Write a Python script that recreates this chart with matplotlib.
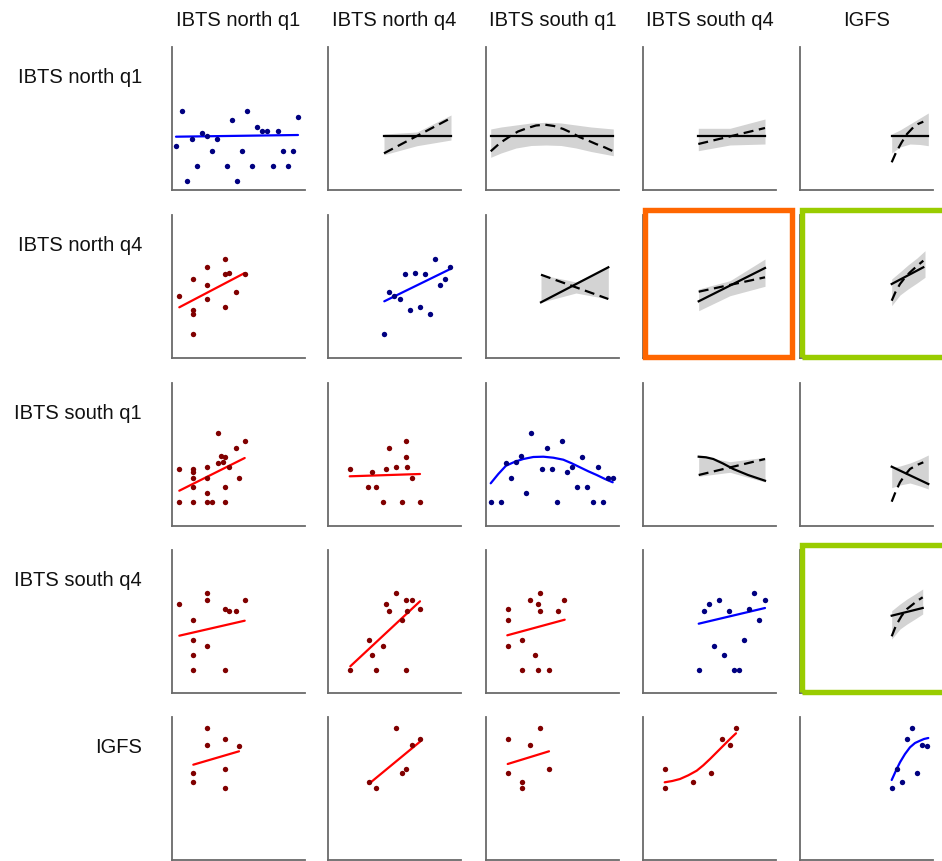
import matplotlib
matplotlib.use("Agg")
import matplotlib.pyplot as plt
from matplotlib.patches import Rectangle

plt.rcParams['font.family'] = ['Liberation Sans', 'DejaVu Sans']

surveys = ["IBTS north q1", "IBTS north q4", "IBTS south q1", "IBTS south q4", "IGFS"]

# ---- diagonal and lower-triangle panels: points and fitted curves ----
# row 0
p00_x = [0.40, 0.97, 1.47, 1.97, 2.47, 2.97, 3.47, 3.97, 4.47, 5.47, 5.97, 6.53,
         7.03, 7.53, 8.03, 8.53, 9.03, 9.53, 10.07, 10.57, 11.07, 11.57, 12.10, 12.60]
p00_y = [4.37, 7.87, 0.93, 5.10, 2.43, 5.67, 5.40, 3.90, 5.10, 2.43, 7.00, 0.93,
         3.90, 7.93, 2.43, 6.27, 5.87, 5.87, 2.43, 5.87, 3.90, 2.43, 3.90, 7.33]
p00_fx = [0.40, 12.60]
p00_fy = [5.33, 5.50]

# row 1
p10_x = [0.73, 2.13, 2.13, 2.13, 2.13, 3.53, 3.53, 3.53, 5.33, 5.33, 5.73, 5.33, 6.40, 7.27]
p10_y = [6.23, 7.90, 4.83, 4.40, 2.40, 9.07, 7.33, 5.90, 9.87, 8.37, 8.50, 5.07, 6.60, 8.37]
p10_fx = [0.73, 7.27]
p10_fy = [5.07, 8.50]

p11_x = [5.63, 6.13, 6.63, 7.17, 7.67, 8.17, 8.70, 9.20, 9.70, 10.20, 10.70, 11.20, 11.70, 12.23]
p11_y = [2.40, 6.60, 6.23, 5.87, 8.37, 4.77, 8.50, 5.07, 8.37, 4.37, 9.87, 7.33, 7.90, 9.07]
p11_fx = [5.63, 12.23]
p11_fy = [5.67, 8.90]

# row 2
p20_x = [0.73, 0.73, 2.13, 2.13, 2.13, 2.13, 2.13, 3.53, 3.53, 3.53, 3.53, 3.97, 4.60,
         4.60, 4.90, 5.13, 5.33, 5.33, 5.33, 5.73, 6.40, 6.70, 7.27]
p20_y = [5.70, 2.43, 5.70, 5.37, 4.77, 3.93, 2.43, 5.87, 4.77, 3.27, 2.43, 2.43, 9.30,
         6.27, 7.03, 6.43, 6.87, 3.93, 2.43, 5.87, 7.83, 4.77, 8.50]
p20_fx = [0.73, 7.27]
p20_fy = [3.53, 6.80]

p21_x = [2.23, 4.40, 4.03, 4.77, 5.47, 5.80, 6.13, 6.83, 7.40, 7.77, 7.77, 7.90, 8.43, 9.17]
p21_y = [5.67, 5.43, 3.93, 3.93, 2.43, 5.67, 7.83, 5.87, 2.43, 8.50, 6.87, 5.87, 4.77, 2.43]
p21_fx = [2.17, 9.20]
p21_fy = [4.97, 5.20]

p22_x = [0.47, 1.50, 2.00, 2.50, 3.03, 3.53, 4.03, 4.53, 5.57, 6.07, 6.60, 7.10, 7.60,
         8.13, 8.63, 9.13, 9.63, 10.13, 10.67, 11.17, 11.67, 12.17, 12.67]
p22_y = [2.43, 2.43, 6.27, 4.77, 6.43, 7.03, 3.27, 9.30, 5.67, 7.83, 5.67, 2.43, 8.50,
         5.37, 5.87, 3.93, 6.87, 3.93, 2.43, 5.87, 2.43, 4.77, 4.77]
p22_fx = [0.47, 1.23, 2.00, 2.90, 3.73, 4.73, 5.73, 6.73, 7.73, 8.57, 9.40, 10.23, 11.07, 11.90, 12.67]
p22_fy = [4.27, 5.20, 6.03, 6.43, 6.70, 6.90, 6.93, 6.83, 6.63, 6.27, 5.87, 5.47, 5.10, 4.70, 4.37]

# row 3
p30_x = [0.73, 2.13, 2.13, 2.13, 2.13, 3.53, 3.53, 3.53, 5.33, 5.73, 5.33, 6.40, 7.27]
p30_y = [8.87, 7.27, 5.30, 3.80, 2.30, 9.97, 9.33, 4.67, 8.40, 8.20, 2.30, 8.20, 9.33]
p30_fx = [0.73, 7.27]
p30_fy = [5.73, 7.23]

p31_x = [2.23, 4.07, 4.40, 4.77, 5.47, 5.80, 6.13, 6.83, 7.40, 7.77, 7.90, 7.77, 8.43, 9.17]
p31_y = [2.30, 5.30, 3.80, 2.30, 4.67, 8.87, 8.20, 9.97, 7.27, 9.33, 8.20, 2.30, 9.33, 8.40]
p31_fx = [2.23, 9.20]
p31_fy = [2.67, 9.17]

p32_x = [2.17, 2.17, 2.17, 3.57, 3.57, 4.37, 4.93, 5.20, 5.20, 5.40, 5.40, 6.30, 7.20, 7.83]
p32_y = [8.40, 7.27, 4.67, 5.30, 2.30, 9.33, 3.80, 8.87, 2.30, 9.97, 8.20, 2.30, 8.20, 9.33]
p32_fx = [2.13, 7.87]
p32_fy = [5.77, 7.33]

p33_x = [5.57, 6.07, 6.60, 7.10, 7.60, 8.10, 8.60, 9.10, 9.63, 10.13, 10.63, 11.13, 11.63, 12.17]
p33_y = [2.30, 8.20, 8.87, 4.67, 9.33, 3.80, 8.20, 2.30, 2.30, 5.30, 8.40, 9.97, 7.27, 9.33]
p33_fx = [5.57, 12.20]
p33_fy = [6.93, 8.50]

# row 4
p40_x = [2.13, 2.13, 3.53, 3.53, 5.33, 5.33, 5.33, 6.70]
p40_y = [8.67, 7.77, 13.23, 11.53, 12.10, 9.07, 7.17, 11.43]
p40_fx = [2.13, 6.70]
p40_fy = [9.53, 10.87]

p41_x = [4.07, 4.77, 6.83, 7.40, 7.77, 8.43, 9.17]
p41_y = [7.77, 7.17, 13.23, 8.67, 9.07, 11.53, 12.10]
p41_fx = [4.07, 9.20]
p41_fy = [7.60, 11.83]

p42_x = [2.17, 2.17, 3.57, 3.57, 4.37, 5.40, 6.30]
p42_y = [12.10, 8.67, 7.77, 7.17, 11.53, 13.23, 9.07]
p42_fx = [2.17, 6.30]
p42_fy = [9.60, 10.87]

p43_x = [2.17, 2.17, 4.97, 6.77, 7.90, 8.70, 9.30]
p43_y = [9.07, 7.17, 7.77, 8.67, 12.10, 11.53, 13.23]
p43_fx = [2.17, 2.93, 3.70, 4.53, 5.37, 6.03, 6.70, 7.37, 8.03, 8.70, 9.30]
p43_fy = [7.77, 7.90, 8.10, 8.47, 8.93, 9.47, 10.10, 10.77, 11.43, 12.10, 12.67]

p44_x = [9.17, 9.67, 10.17, 10.67, 11.20, 11.70, 12.20, 12.73]
p44_y = [7.17, 9.07, 7.77, 12.10, 13.23, 8.67, 11.53, 11.43]
p44_fx = [9.17, 9.60, 10.00, 10.50, 11.00, 11.50, 12.00, 12.40, 12.83]
p44_fy = [8.00, 8.95, 9.77, 10.60, 11.27, 11.70, 11.93, 12.10, 12.20]

# ---- upper-triangle panels: solid fit, dashed fit and grey interval ----
u01_sx, u01_sy = [5.60, 12.30], [5.43, 5.43]
u01_dx, u01_dy = [5.60, 12.30], [3.67, 7.20]
u01_bx, u01_lo, u01_hi = [5.60, 8.90, 12.30], [3.53, 4.43, 5.00], [5.60, 5.80, 7.50]

u02_sx, u02_sy = [0.47, 12.73], [5.43, 5.43]
u02_dx = [0.47, 1.40, 2.40, 3.20, 4.07, 5.00, 5.90, 6.80, 7.73, 8.60, 9.40, 10.20, 11.00, 11.90, 12.73]
u02_dy = [3.87, 4.70, 5.37, 5.85, 6.17, 6.45, 6.53, 6.40, 6.10, 5.70, 5.27, 4.95, 4.60, 4.25, 3.87]
u02_bx = [0.47, 1.50, 3.00, 4.50, 6.00, 7.50, 9.00, 10.50, 12.73]
u02_lo = [3.27, 3.70, 4.20, 4.45, 4.50, 4.45, 4.20, 3.85, 3.43]
u02_hi = [6.10, 6.30, 6.50, 6.70, 6.77, 6.70, 6.50, 6.30, 6.10]

u03_sx, u03_sy = [5.53, 12.20], [5.43, 5.43]
u03_dx, u03_dy = [5.53, 12.20], [4.60, 6.20]
u03_bx, u03_lo, u03_hi = [5.53, 8.70, 12.20], [3.93, 4.50, 4.60], [6.17, 6.17, 7.10]

u04_sx, u04_sy = [9.17, 12.83], [5.43, 5.43]
u04_dx = [9.17, 9.60, 10.17, 10.70, 11.33, 11.80, 12.33]
u04_dy = [2.77, 3.75, 4.77, 5.60, 6.27, 6.60, 6.83]
u04_bx, u04_lo, u04_hi = [9.17, 10.00, 11.00, 12.00, 12.83], [3.70, 4.30, 4.60, 4.55, 4.43], [5.60, 6.00, 6.60, 7.20, 7.70]

u12_sx, u12_sy = [5.50, 12.23], [5.57, 9.07]
u12_dx, u12_dy = [5.50, 12.23], [8.33, 5.90]
u12_bx, u12_lo, u12_hi = [5.50, 9.00, 12.23], [5.57, 6.50, 5.90], [8.33, 7.60, 9.07]

u13_sx, u13_sy = [5.57, 12.20], [5.67, 9.00]
u13_dx, u13_dy = [5.57, 12.20], [6.63, 8.07]
u13_bx, u13_lo, u13_hi = [5.57, 8.70, 12.20], [4.73, 6.23, 7.17], [6.90, 7.73, 9.90]

u14_sx, u14_sy = [9.17, 12.33], [7.40, 9.07]
u14_dx = [9.17, 9.55, 10.00, 10.50, 11.00, 11.70, 12.33]
u14_dy = [5.73, 6.60, 7.40, 8.05, 8.57, 9.20, 9.73]
u14_bx, u14_lo, u14_hi = [9.17, 10.00, 10.80, 11.70, 12.50], [5.23, 6.30, 6.90, 7.50, 8.07], [7.90, 8.60, 9.30, 10.00, 10.73]

u23_sx, u23_sy = [5.57, 6.30, 7.03, 8.00, 9.03, 10.50, 12.20], [6.93, 6.87, 6.70, 6.25, 5.70, 5.10, 4.53]
u23_dx, u23_dy = [5.57, 12.20], [5.10, 6.70]
u23_bx, u23_lo, u23_hi = [5.57, 8.70, 12.20], [4.97, 5.37, 4.40], [7.03, 6.43, 6.87]

u24_sx, u24_sy = [9.17, 12.83], [5.93, 4.20]
u24_dx = [9.17, 9.55, 10.00, 10.50, 11.00, 11.70, 12.33]
u24_dy = [2.43, 3.40, 4.37, 5.10, 5.70, 6.10, 6.37]
u24_bx, u24_lo, u24_hi = [9.17, 10.00, 11.00, 12.00, 12.83], [3.83, 4.10, 4.30, 4.00, 3.70], [5.87, 6.00, 6.30, 6.70, 7.10]

u34_sx, u34_sy = [9.17, 12.27], [7.73, 8.50]
u34_dx = [9.17, 9.60, 10.17, 10.70, 11.33, 11.80, 12.27]
u34_dy = [5.67, 6.75, 7.73, 8.40, 8.90, 9.27, 9.57]
u34_bx, u34_lo, u34_hi = [9.17, 10.00, 10.70, 11.50, 12.27], [5.40, 6.40, 6.90, 7.40, 7.90], [8.23, 8.90, 9.40, 9.90, 10.40]

lower_panels = {
    (0, 0): (p00_x, p00_y, p00_fx, p00_fy),
    (1, 0): (p10_x, p10_y, p10_fx, p10_fy),
    (1, 1): (p11_x, p11_y, p11_fx, p11_fy),
    (2, 0): (p20_x, p20_y, p20_fx, p20_fy),
    (2, 1): (p21_x, p21_y, p21_fx, p21_fy),
    (2, 2): (p22_x, p22_y, p22_fx, p22_fy),
    (3, 0): (p30_x, p30_y, p30_fx, p30_fy),
    (3, 1): (p31_x, p31_y, p31_fx, p31_fy),
    (3, 2): (p32_x, p32_y, p32_fx, p32_fy),
    (3, 3): (p33_x, p33_y, p33_fx, p33_fy),
    (4, 0): (p40_x, p40_y, p40_fx, p40_fy),
    (4, 1): (p41_x, p41_y, p41_fx, p41_fy),
    (4, 2): (p42_x, p42_y, p42_fx, p42_fy),
    (4, 3): (p43_x, p43_y, p43_fx, p43_fy),
    (4, 4): (p44_x, p44_y, p44_fx, p44_fy),
}
upper_panels = {
    (0, 1): (u01_sx, u01_sy, u01_dx, u01_dy, u01_bx, u01_lo, u01_hi),
    (0, 2): (u02_sx, u02_sy, u02_dx, u02_dy, u02_bx, u02_lo, u02_hi),
    (0, 3): (u03_sx, u03_sy, u03_dx, u03_dy, u03_bx, u03_lo, u03_hi),
    (0, 4): (u04_sx, u04_sy, u04_dx, u04_dy, u04_bx, u04_lo, u04_hi),
    (1, 2): (u12_sx, u12_sy, u12_dx, u12_dy, u12_bx, u12_lo, u12_hi),
    (1, 3): (u13_sx, u13_sy, u13_dx, u13_dy, u13_bx, u13_lo, u13_hi),
    (1, 4): (u14_sx, u14_sy, u14_dx, u14_dy, u14_bx, u14_lo, u14_hi),
    (2, 3): (u23_sx, u23_sy, u23_dx, u23_dy, u23_bx, u23_lo, u23_hi),
    (2, 4): (u24_sx, u24_sy, u24_dx, u24_dy, u24_bx, u24_lo, u24_hi),
    (3, 4): (u34_sx, u34_sy, u34_dx, u34_dy, u34_bx, u34_lo, u34_hi),
}
highlights = [((1, 3), "#ff6600"), ((1, 4), "#99cc00"), ((3, 4), "#99cc00")]

# ---- layout (pixels) ----
W, H = 942, 862
col_left = [172, 328, 486, 643, 800]
row_bottom = [191, 359, 527, 694, 861]
PW, PH = 133, 143
XMAX, YMAX = 13.3, 14.3

fig = plt.figure(figsize=(W / 100, H / 100), dpi=100)
fig.patch.set_facecolor("white")


def make_axes(r, c):
    ax = fig.add_axes([col_left[c] / W, (H - row_bottom[r]) / H, PW / W, PH / H])
    ax.set_xlim(0, XMAX)
    ax.set_ylim(0, YMAX)
    ax.patch.set_alpha(0)
    for side in ("top", "right"):
        ax.spines[side].set_visible(False)
    for side in ("left", "bottom"):
        ax.spines[side].set_color("#6a6a6a")
        ax.spines[side].set_linewidth(1.3)
    ax.set_xticks([])
    ax.set_yticks([])
    return ax


for (r, c), (x, y, fx, fy) in lower_panels.items():
    ax = make_axes(r, c)
    diag = r == c
    dot = "#000080" if diag else "#800000"
    line = "#0000ff" if diag else "#ff0000"
    ax.plot(fx, fy, color=line, lw=1.6, solid_capstyle="round",
            solid_joinstyle="round", zorder=2)
    ax.scatter(x, y, s=15, color=dot, linewidths=0, zorder=3)

for (r, c), (sx, sy, dx, dy, bx, lo, hi) in upper_panels.items():
    ax = make_axes(r, c)
    ax.fill_between(bx, lo, hi, color="#d3d3d3", lw=0, zorder=1)
    ax.plot(sx, sy, color="black", lw=1.6, solid_joinstyle="round", zorder=3)
    ax.plot(dx, dy, color="black", lw=1.6, dashes=(4.5, 2.5), zorder=3)

# column headers and row labels
for c, name in enumerate(surveys):
    fig.text((col_left[c] + PW / 2) / W, 1 - 26 / H, name, ha="center",
             va="baseline", fontsize=14.5, color="#111111")
for r, name in enumerate(surveys):
    top = row_bottom[r] - PH
    fig.text(142 / W, 1 - (top + 35) / H, name, ha="right",
             va="baseline", fontsize=14.5, color="#111111")

# coloured frames around selected panels
for (r, c), col in highlights:
    left = col_left[c] + 1.5
    right = left + 147.5 if c < 4 else W + 20
    top = row_bottom[r] - PH - 5
    bottom = row_bottom[r] - 1
    fig.patches.append(Rectangle((left / W, 1 - bottom / H), (right - left) / W,
                                 (bottom - top) / H, transform=fig.transFigure,
                                 fill=False, edgecolor=col, lw=3.9, zorder=5))

fig.savefig("out.png", dpi=100)
